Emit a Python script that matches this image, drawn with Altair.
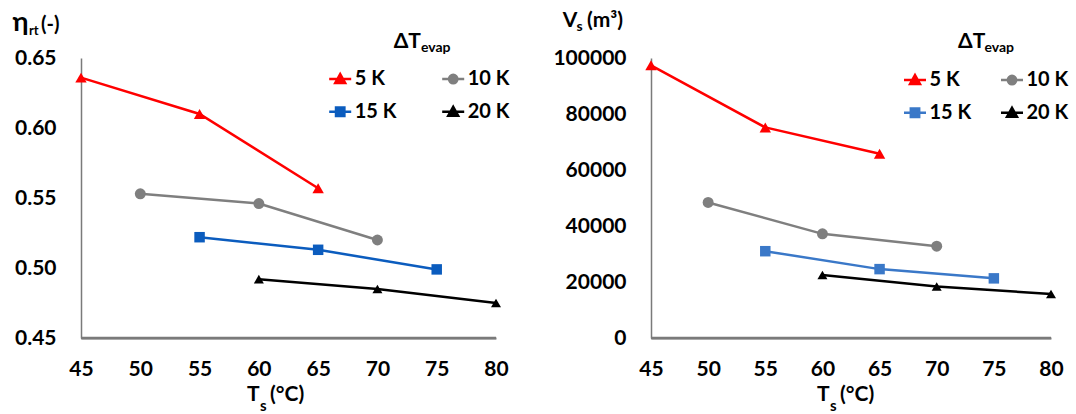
import altair as alt
import pandas as pd

FONT = "Lato"

series = ["5 K", "10 K", "15 K", "20 K"]
temps_5K = [45, 55, 65]
temps_10K = [50, 60, 70]
temps_15K = [55, 65, 75]
temps_20K = [60, 70, 80]

eta_5K = [0.636, 0.610, 0.557]
eta_10K = [0.553, 0.546, 0.520]
eta_15K = [0.522, 0.513, 0.499]
eta_20K = [0.492, 0.485, 0.475]

vol_5K = [97400, 75200, 65800]
vol_10K = [48400, 37200, 32800]
vol_15K = [31000, 24600, 21300]
vol_20K = [22500, 18400, 15700]

x_ticks = [45, 50, 55, 60, 65, 70, 75, 80]
eta_ticks = [0.45, 0.50, 0.55, 0.60, 0.65]
vol_ticks = [0, 20000, 40000, 60000, 80000, 100000]

colors_left = ["#ff0000", "#7f7f7f", "#0b5cbe", "#000000"]
colors_right = ["#ff0000", "#7f7f7f", "#3a78c8", "#000000"]
marker_shapes = ["triangle-up", "circle", "square", "triangle-up"]
marker_sizes = [130, 100, 100, 130]
legend_shapes = [
    "M-1,0H1M0,-0.45L0.45,0.35L-0.45,0.35Z",
    "M-1,0H1M0.38,0A0.38,0.38,0,1,1,-0.38,0A0.38,0.38,0,1,1,0.38,0Z",
    "M-1,0H1M-0.38,-0.38H0.38V0.38H-0.38Z",
    "M-1,0H1M0,-0.45L0.45,0.35L-0.45,0.35Z",
]

AXIS_GRAY = "#7a7a7a"


def make_df(temps, vals):
    rows = []
    for s, t, v in zip(series, temps, vals):
        for ti, vi in zip(t, v):
            rows.append({"s": s, "T": ti, "v": vi})
    return pd.DataFrame(rows)


temps_all = [temps_5K, temps_10K, temps_15K, temps_20K]
df_eta = make_df(temps_all, [eta_5K, eta_10K, eta_15K, eta_20K])
df_vol = make_df(temps_all, [vol_5K, vol_10K, vol_15K, vol_20K])


def txt(s, x, y, size):
    return alt.Chart(alt.Data(values=[{}])).mark_text(
        text=s, font=FONT, fontSize=size, fontWeight="bold",
        align="left", baseline="alphabetic", color="black"
    ).encode(x=alt.value(x), y=alt.value(y))


def panel(df, y_ticks, y_fmt, colors, w, h, title_texts, lx, ly, colpad):
    xs = alt.X("T:Q", scale=alt.Scale(domain=[45, 80], nice=False, zero=False),
               axis=alt.Axis(values=x_ticks, format="d", labelPadding=20, title=None,
                             labelFlush=False, domain=True, domainColor=AXIS_GRAY,
                             domainWidth=2, domainOpacity=1, zindex=1))
    ys = alt.Y("v:Q", scale=alt.Scale(domain=[y_ticks[0], y_ticks[-1]], nice=False, zero=False),
               axis=alt.Axis(values=y_ticks, format=y_fmt, labelPadding=25, title=None,
                             labelFlush=False, domain=True, domainColor=AXIS_GRAY,
                             domainWidth=1.5, domainOpacity=1))
    base_df = pd.DataFrame({"T": [x_ticks[0]], "T2": [x_ticks[-1]], "v": [y_ticks[0]]})
    baseline = alt.Chart(base_df).mark_rule(
        color=AXIS_GRAY, strokeWidth=2.5, opacity=1).encode(
        x=xs, x2="T2:Q", y=ys)
    cscale = alt.Scale(domain=series, range=colors)
    lines = alt.Chart(df).mark_line(strokeWidth=2.5).encode(
        x=xs, y=ys, color=alt.Color("s:N", scale=cscale, legend=None))
    points = alt.Chart(df).mark_point(filled=True, opacity=1).encode(
        x=xs, y=ys,
        color=alt.Color("s:N", scale=cscale, legend=None),
        size=alt.Size("s:N", scale=alt.Scale(domain=series, range=marker_sizes), legend=None),
        shape=alt.Shape("s:N", scale=alt.Scale(domain=series, range=marker_shapes), legend=None))
    leg = alt.Legend(orient="none", legendX=lx, legendY=ly, columns=2, direction="horizontal",
                     columnPadding=colpad, rowPadding=10, symbolSize=484, symbolStrokeWidth=2.5,
                     labelFont=FONT, labelFontSize=20, labelFontWeight="bold",
                     labelColor="black", labelOffset=2, title=None, padding=0)
    dummy = alt.Chart(df).transform_filter("false").mark_point(
        filled=True, opacity=1, strokeWidth=2.5).encode(
        x=xs, y=ys,
        color=alt.Color("s:N", scale=cscale, legend=leg),
        stroke=alt.Stroke("s:N", scale=cscale, legend=leg),
        shape=alt.Shape("s:N", scale=alt.Scale(domain=series, range=legend_shapes), legend=leg))
    texts = [txt(*t) for t in title_texts]
    return alt.layer(baseline, lines, points, dummy, *texts).resolve_scale(
        color="independent", shape="independent", stroke="independent", size="independent"
    ).properties(width=w, height=h)


left_titles = [
    ("η", -68.6, -27, 27), ("rt", -52, -23, 13), ("(-)", -40, -27, 20),
    ("ΔT", 312.7, -9.7, 21), ("evap", 340, -6, 14),
    ("T", 166, 343, 21), ("s", 179, 353, 15), ("(°C)", 189, 343, 21),
]
right_titles = [
    ("V", -88.3, -31, 21), ("s", -74.5, -27, 14), ("(m³)", -64, -31, 21),
    ("ΔT", 307, -9.7, 21), ("evap", 333.4, -6, 14),
    ("T", 166, 343, 21), ("s", 179, 353, 15), ("(°C)", 189, 343, 21),
]

left = panel(df_eta, eta_ticks, ".2f", colors_left, 415, 280, left_titles, 246.7, 8.3, 40)
right = panel(df_vol, vol_ticks, "d", colors_right, 400, 280, right_titles, 251.5, 9.3, 24)

chart = alt.hconcat(left, right, spacing=155, bounds="flush").resolve_scale(
    color="independent", shape="independent", stroke="independent", size="independent"
).properties(
    padding={"left": 12, "top": 9, "right": 0, "bottom": 0}
).configure_view(stroke=None).configure_axis(
    ticks=False, tickSize=0, grid=False,
    labelFont=FONT, labelFontSize=21, labelFontWeight="bold", labelColor="black"
)

chart.save("out.html", embed_options={"renderer": "svg", "actions": False})
